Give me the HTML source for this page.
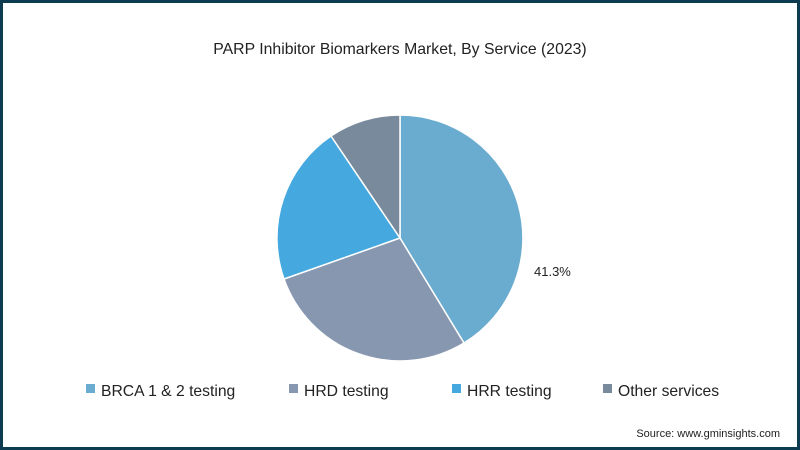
<!DOCTYPE html>
<html><head><style>
body{margin:0;width:800px;height:450px;overflow:hidden;background:#fff;}
.frame{position:absolute;left:0;top:0;width:794px;height:444px;border:3px solid #0d3b4f;background:#fff;}
svg{position:absolute;left:0;top:0;}
text{font-family:"Liberation Sans",sans-serif;fill:#222;}
</style></head><body>
<div class="frame"></div>
<svg width="800" height="450">
<text x="400" y="54" font-size="15.8" text-anchor="middle">PARP Inhibitor Biomarkers Market, By Service (2023)</text>
<g stroke="#fff" stroke-width="1.5">
<path d="M400,238 L400,115 A123,123 0 0 1 464,343 Z" fill="#6aaccf"/>
<path d="M400,238 L464,343 A123,123 0 0 1 284,279 Z" fill="#8797b0"/>
<path d="M400,238 L284,279 A123,123 0 0 1 331,136 Z" fill="#45a9df"/>
<path d="M400,238 L331,136 A123,123 0 0 1 400,115 Z" fill="#788a9c"/>
</g>
<text x="534" y="276" font-size="13">41.3%</text>
<rect x="86" y="384" width="9" height="9" fill="#6aaccf"/>
<text x="101" y="396" font-size="15.7">BRCA 1 &amp; 2 testing</text>
<rect x="289" y="384" width="9" height="9" fill="#8797b0"/>
<text x="304" y="396" font-size="15.7">HRD testing</text>
<rect x="452" y="384" width="9" height="9" fill="#45a9df"/>
<text x="467" y="396" font-size="15.7">HRR testing</text>
<rect x="603" y="384" width="9" height="9" fill="#788a9c"/>
<text x="618" y="396" font-size="15.7">Other services</text>
<text x="780" y="437" font-size="11" text-anchor="end">Source: www.gminsights.com</text>
</svg>
</body></html>
